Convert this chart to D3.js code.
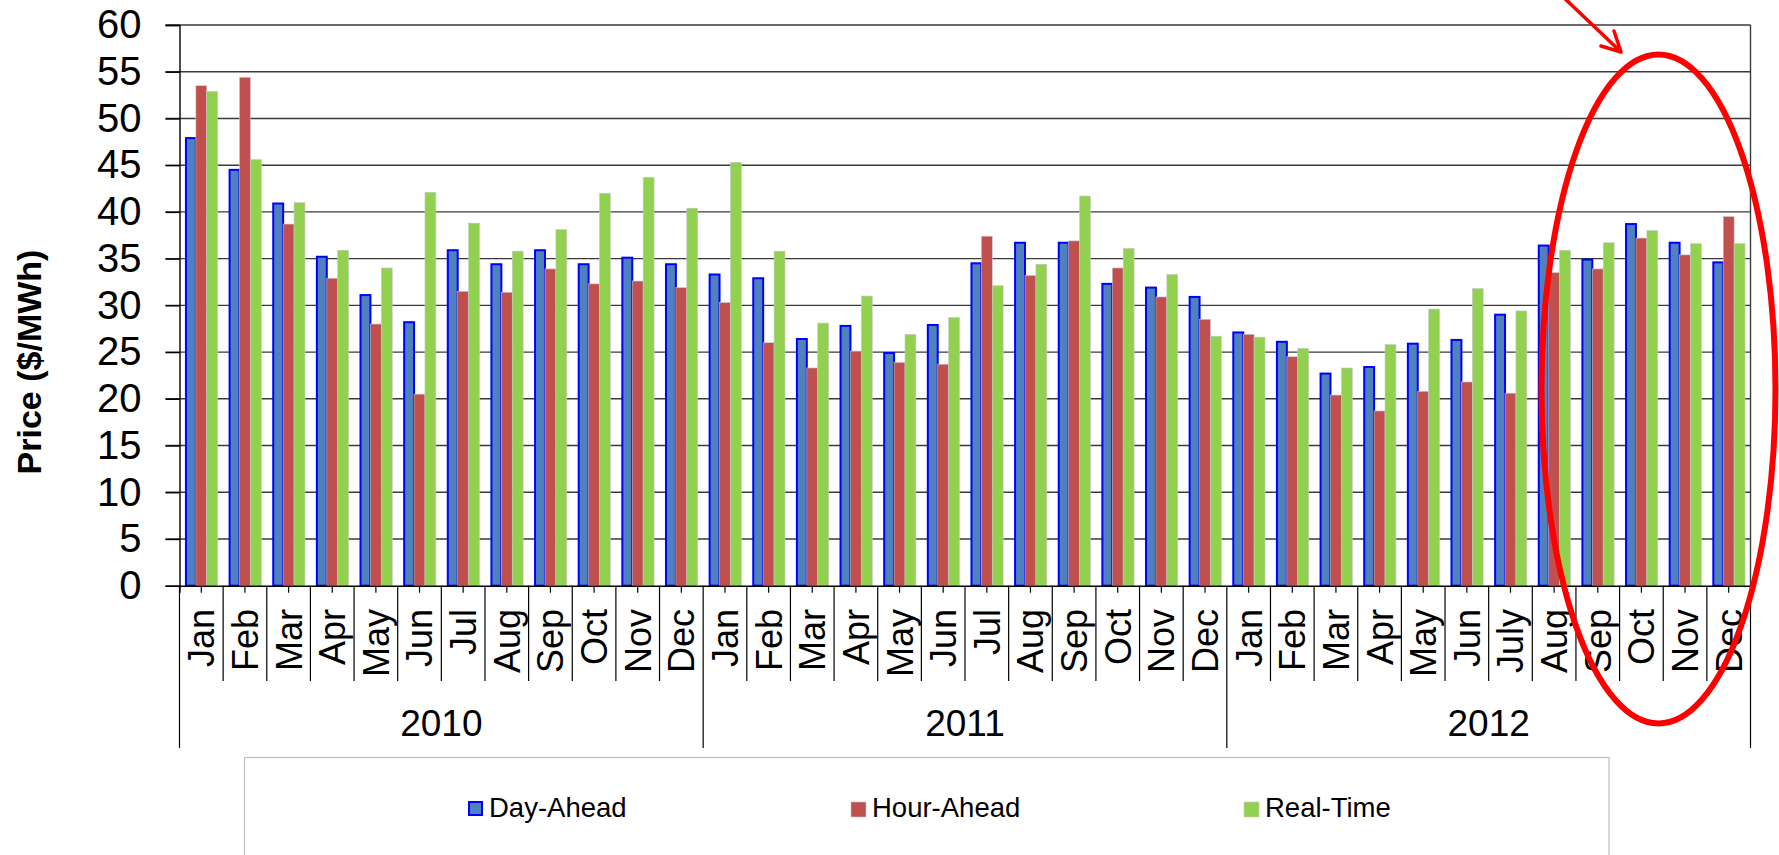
<!DOCTYPE html>
<html>
<head>
<meta charset="utf-8">
<script src="https://cdn.jsdelivr.net/npm/d3@7"></script>
<style>
  html, body { margin: 0; padding: 0; background: #fff; }
  svg { display: block; font-family: "Liberation Sans", Arial, sans-serif; }
</style>
</head>
<body>
<svg id="chart" width="1779" height="855"></svg>
<script>
// ---------------- DATA ----------------
const years = ["2010", "2011", "2012"];
const months = [
  "Jan","Feb","Mar","Apr","May","Jun","Jul","Aug","Sep","Oct","Nov","Dec",
  "Jan","Feb","Mar","Apr","May","Jun","Jul","Aug","Sep","Oct","Nov","Dec",
  "Jan","Feb","Mar","Apr","May","Jun","July","Aug","Sep","Oct","Nov","Dec"
];
const seriesNames = ["Day-Ahead", "Hour-Ahead", "Real-Time"];
const dayAhead = [
  47.9, 44.5, 40.9, 35.2, 31.1, 28.2, 35.9, 34.4, 35.9, 34.4, 35.1, 34.4,
  33.3, 32.9, 26.4, 27.8, 24.9, 27.9, 34.5, 36.7, 36.7, 32.3, 31.9, 30.9,
  27.1, 26.1, 22.7, 23.4, 25.9, 26.3, 29.0, 36.4, 34.9, 38.7, 36.7, 34.6
];
const hourAhead = [
  53.5, 54.4, 38.7, 32.9, 28.0, 20.5, 31.5, 31.4, 33.9, 32.3, 32.6, 31.9,
  30.3, 26.0, 23.3, 25.1, 23.9, 23.7, 37.4, 33.2, 36.9, 34.0, 30.9, 28.5,
  26.9, 24.5, 20.4, 18.7, 20.8, 21.8, 20.6, 33.5, 33.9, 37.2, 35.4, 39.5
];
const realTime = [
  52.9, 45.6, 41.0, 35.9, 34.0, 42.1, 38.8, 35.8, 38.1, 42.0, 43.7, 40.4,
  45.3, 35.8, 28.1, 31.0, 26.9, 28.7, 32.1, 34.4, 41.7, 36.1, 33.3, 26.7,
  26.6, 25.4, 23.3, 25.8, 29.6, 31.8, 29.4, 35.9, 36.7, 38.0, 36.6, 36.6
];
const yTicks = [0, 5, 10, 15, 20, 25, 30, 35, 40, 45, 50, 55, 60];
const yLabel = "Price ($/MWh)";

// ---------------- STYLE / LAYOUT ----------------
const colors = { fill: ["#4f81bd", "#c0504d", "#92d050"] };
const plot = { left: 179.5, right: 1750.5, top: 25, bottom: 585.7 };

const svg = d3.select("#chart");

const x = d3.scaleBand()
  .domain(d3.range(months.length))
  .range([plot.left, plot.right])
  .paddingInner(0).paddingOuter(0);
const bw = x.bandwidth();

const xs = d3.scaleBand()
  .domain([0, 1, 2])
  .range([bw / 8, bw * 7 / 8])
  .padding(0);

const y = d3.scaleLinear().domain([0, 60]).range([plot.bottom, plot.top]);

// gridlines
svg.append("g")
  .selectAll("line")
  .data(yTicks.filter(d => d > 0))
  .join("line")
  .attr("x1", plot.left - 14).attr("x2", plot.right)
  .attr("y1", d => y(d)).attr("y2", d => y(d))
  .attr("stroke", "#3a3a3a").attr("stroke-width", 1.4);

// right border of plot area
svg.append("line")
  .attr("x1", plot.right).attr("x2", plot.right)
  .attr("y1", plot.top).attr("y2", plot.bottom)
  .attr("stroke", "#3a3a3a").attr("stroke-width", 1.4);

// bars
const series = [dayAhead, hourAhead, realTime];
const gBars = svg.append("g");
series.forEach((vals, si) => {
  gBars.append("g")
    .selectAll("rect")
    .data(vals)
    .join("rect")
    .attr("x", (d, i) => x(i) + xs(si) + (si === 0 ? 1 : 0))
    .attr("width", xs.bandwidth() - (si === 0 ? 1 : 0))
    .attr("y", d => y(d))
    .attr("height", d => y(0) - y(d))
    .attr("fill", colors.fill[si])
    .attr("stroke", si === 0 ? "#0000ff" : "#c8c8c8")
    .attr("stroke-width", si === 0 ? 2 : 0.6);
});

// y axis
const yAxis = d3.axisLeft(y).tickValues(yTicks).tickSize(14).tickPadding(24);
const gy = svg.append("g").attr("transform", `translate(${plot.left},0)`).call(yAxis);
gy.select(".domain").attr("stroke", "#000").attr("stroke-width", 1.4);
gy.selectAll(".tick line").attr("stroke", "#000").attr("stroke-width", 1.4);
gy.selectAll(".tick text")
  .attr("font-size", 40).attr("fill", "#000")
  .attr("font-family", "Liberation Sans, Arial, sans-serif");

// x axis (ticks at category centres)
const xAxis = d3.axisBottom(x).tickSize(7).tickFormat(() => "");
const gx = svg.append("g").attr("transform", `translate(0,${plot.bottom})`).call(xAxis);
gx.select(".domain").attr("stroke", "#000").attr("stroke-width", 1.4);
gx.selectAll(".tick line").attr("stroke", "#000").attr("stroke-width", 1.2);

// category separators
const boundaries = d3.range(months.length + 1);
svg.append("g")
  .selectAll("line")
  .data(boundaries)
  .join("line")
  .attr("x1", i => i < months.length ? x(i) : x(months.length - 1) + bw)
  .attr("x2", i => i < months.length ? x(i) : x(months.length - 1) + bw)
  .attr("y1", plot.bottom)
  .attr("y2", i => (i % 12 === 0) ? 748 : 681)
  .attr("stroke", "#000").attr("stroke-width", 1.2);

// month labels
svg.append("g")
  .selectAll("text")
  .data(months)
  .join("text")
  .attr("transform", (d, i) => `translate(${x(i) + bw / 2},609) rotate(-90)`)
  .attr("text-anchor", "end")
  .attr("dy", "0.36em")
  .attr("font-size", 36)
  .attr("fill", "#000")
  .text(d => d);

// year labels
svg.append("g")
  .selectAll("text")
  .data(years)
  .join("text")
  .attr("x", (d, k) => (x(k * 12) + x(k * 12 + 11) + bw) / 2)
  .attr("y", 736)
  .attr("text-anchor", "middle")
  .attr("font-size", 37)
  .attr("fill", "#000")
  .text(d => d);

// y axis title
svg.append("text")
  .attr("transform", "translate(41,362) rotate(-90)")
  .attr("text-anchor", "middle")
  .attr("font-size", 34)
  .attr("font-weight", "bold")
  .attr("fill", "#000")
  .text(yLabel);

// legend
svg.append("rect")
  .attr("x", 244.5).attr("y", 757.5)
  .attr("width", 1364.5).attr("height", 120)
  .attr("fill", "#fff").attr("stroke", "#bfbfbf").attr("stroke-width", 1.2);

const legendX = [468, 851, 1244];
const lg = svg.append("g").selectAll("g").data(seriesNames).join("g")
  .attr("transform", (d, i) => `translate(${legendX[i]},0)`);
lg.append("rect")
  .attr("x", (d, i) => i === 0 ? 1 : 0).attr("y", 802)
  .attr("width", (d, i) => i === 0 ? 13 : 15).attr("height", (d, i) => i === 0 ? 13 : 15)
  .attr("fill", (d, i) => colors.fill[i])
  .attr("stroke", (d, i) => i === 0 ? "#0000ff" : "#c8c8c8")
  .attr("stroke-width", (d, i) => i === 0 ? 2 : 0.6);
lg.append("text")
  .attr("x", 21).attr("y", 817)
  .attr("font-size", 27.5)
  .attr("fill", "#000")
  .text(d => d);

// annotation: red ellipse and arrow
svg.append("ellipse")
  .attr("cx", 1658.5).attr("cy", 389).attr("rx", 117).attr("ry", 334.5)
  .attr("fill", "none").attr("stroke", "#ff0000").attr("stroke-width", 6);
svg.append("path")
  .attr("d", "M1560,-6 L1621,52 M1614,31 L1621,52 L1601,46")
  .attr("fill", "none").attr("stroke", "#ff0000").attr("stroke-width", 3.5)
  .attr("stroke-linecap", "round").attr("stroke-linejoin", "round");
</script>
</body>
</html>
